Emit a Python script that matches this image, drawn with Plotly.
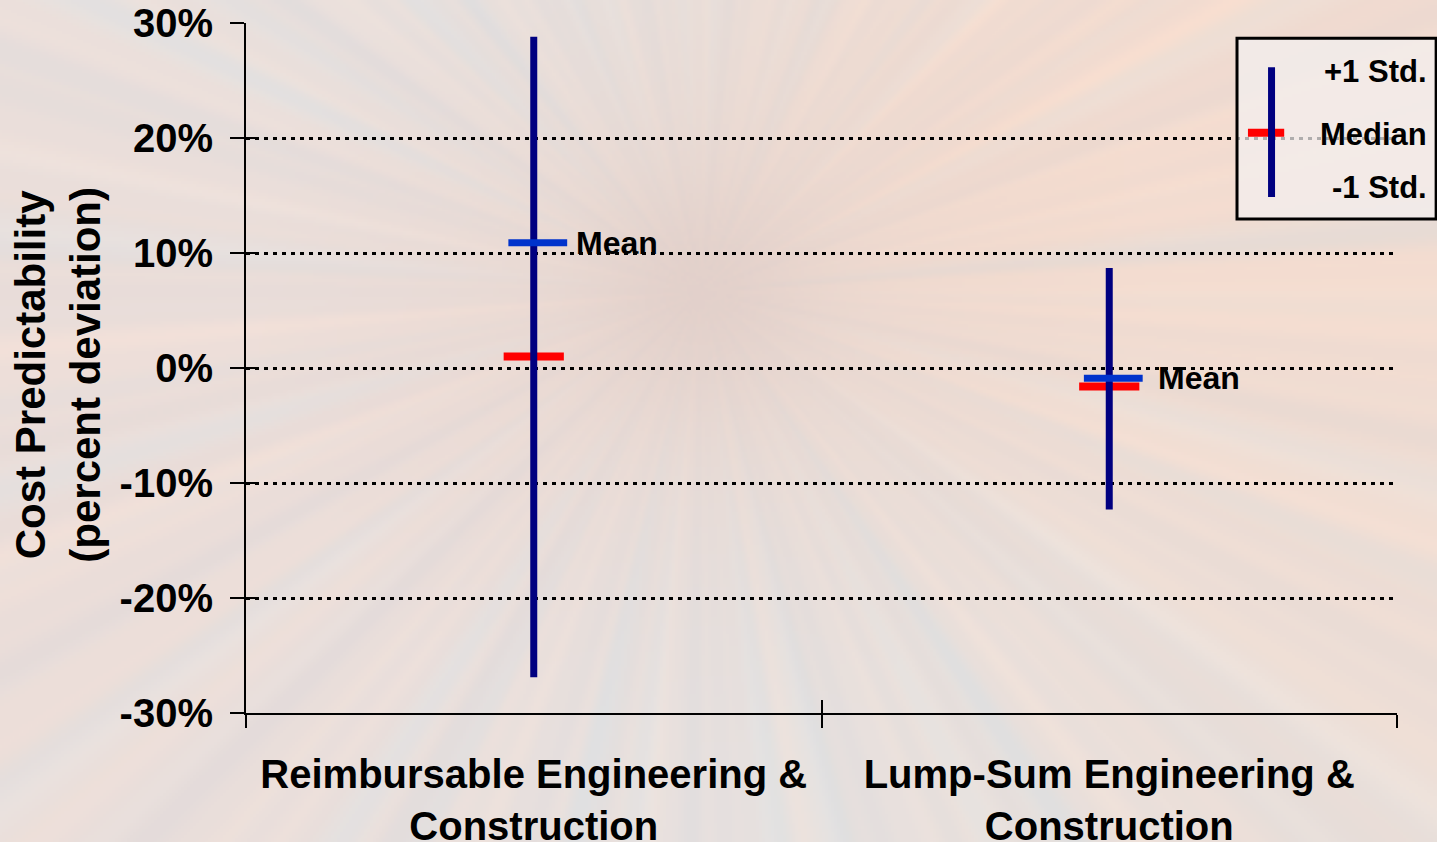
import numpy as np
import zlib, struct, base64
import plotly.graph_objects as go

# ---------------- data ----------------
categories = ["Reimbursable Engineering &<br>Construction",
              "Lump-Sum Engineering &<br>Construction"]
plus_1_std = [28.8, 8.7]
minus_1_std = [-26.9, -12.3]
mean_vals = [10.9, -0.9]
median_vals = [1.0, -1.6]
mean_label = "Mean"
y_ticks = [-30, -20, -10, 0, 10, 20, 30]
y_tick_labels = ["-30%", "-20%", "-10%", "0%", "10%", "20%", "30%"]
legend_labels = ["+1 Std.", "Median", "-1 Std."]

FONT = "Liberation Sans, Arial, Helvetica, sans-serif"
NAVY = "#000080"
BLUE = "#0033CC"
RED = "#FF0000"

# ---------------- background (soft radial burst) ----------------
W, H = 480, 282
yy, xx = np.mgrid[0:H, 0:W].astype(float)
dx = (xx / W * 1437) - 700
dy = (yy / H * 842) - 290
ang = np.arctan2(dy, dx)
r = np.hypot(dx, dy)
ray = (0.35 * np.sin(ang * 23 + 0.7) + 0.25 * np.sin(ang * 41 + 2.1)
       + 0.2 * np.sin(ang * 67 + 4.0) + 0.2 * np.sin(ang * 113 + 1.3))
ray2 = (0.5 * np.sin(ang * 17 + 3.1) + 0.5 * np.sin(ang * 53 + 0.4))
warm = 0.5 + 0.5 * np.sin(ang * 2 + 2.2)
cool = np.clip(0.5 + 0.5 * np.sin(ang * 1 - 1.2), 0, 1) ** 2
fade = np.clip(r / 450, 0, 1)
soft = 1 - np.exp(-(r / 220) ** 2)
center = np.exp(-(r / 120) ** 2)
base = np.array([231, 219, 214], float)
img = np.zeros((H, W, 3))
for k in range(3):
    img[..., k] = base[k]
img += (warm * soft)[..., None] * np.array([9, -4, -11]) + (1 - soft)[..., None] * np.array([4, -2, -5])
img += (cool * soft)[..., None] * np.array([-7, 2, 9])
img += (ray[..., None] * np.array([7, 3, 0])) * (0.3 + 0.7 * fade[..., None])
img += (np.clip(ray2, 0, 1)[..., None] * np.array([-5, 2, 5])) * fade[..., None]
img += fade[..., None] * np.array([3, 5, 5])
img += center[..., None] * np.array([-8, -8, -6])
img = np.clip(img, 0, 255).astype(np.uint8)


def png_uri(arr):
    h, w, _ = arr.shape
    raw = b"".join(b"\x00" + arr[i].tobytes() for i in range(h))

    def chunk(t, d):
        c = struct.pack(">I", len(d)) + t + d
        return c + struct.pack(">I", zlib.crc32(t + d) & 0xFFFFFFFF)

    png = (b"\x89PNG\r\n\x1a\n"
           + chunk(b"IHDR", struct.pack(">IIBBBBB", w, h, 8, 2, 0, 0, 0))
           + chunk(b"IDAT", zlib.compress(raw, 9))
           + chunk(b"IEND", b""))
    return "data:image/png;base64," + base64.b64encode(png).decode()


# ---------------- figure ----------------
fig = go.Figure()

# median and mean bars (drawn under the whiskers)
fig.add_trace(go.Scatter(
    x=categories, y=median_vals, mode="markers", hoverinfo="skip",
    marker=dict(symbol="line-ew", size=43, line=dict(color=RED, width=8)),
    showlegend=False))
# mean bars sit slightly right of the whisker (drawn on a hidden, nudged category axis)
fig.add_trace(go.Scatter(
    x=categories, y=mean_vals, mode="markers", hoverinfo="skip", xaxis="x3",
    marker=dict(symbol="line-ew", size=42, line=dict(color=BLUE, width=7)),
    showlegend=False))

# whiskers (+/- 1 std)
wx, wy = [], []
for c, lo, hi in zip(categories, minus_1_std, plus_1_std):
    wx += [c, c, None]
    wy += [lo, hi, None]
fig.add_trace(go.Scatter(x=wx, y=wy, mode="lines", hoverinfo="skip",
                         line=dict(color=NAVY, width=7), showlegend=False))

# invisible trace for the overlay axes (crossing tick marks)
fig.add_trace(go.Scatter(x=categories, y=[None, None], xaxis="x2", yaxis="y2",
                         mode="markers", showlegend=False, hoverinfo="skip"))

# "Mean" labels
for c, m, shift in zip(categories, mean_vals, [40, 47]):
    fig.add_annotation(x=c, y=m, text=mean_label, showarrow=False,
                       xanchor="left", yanchor="middle", xshift=shift,
                       font=dict(family=FONT, size=32, color="black", weight="bold"))

# y axis title
fig.add_annotation(xref="paper", yref="paper", x=-0.1635, y=0.49,
                   text="Cost Predictability<br>(percent deviation)",
                   textangle=-90, showarrow=False, xanchor="center", yanchor="middle",
                   font=dict(family=FONT, size=42, color="black", weight="bold"))

# custom legend box
fig.add_shape(type="rect", xref="paper", yref="paper",
              x0=0.861, x1=1.034, y0=0.716, y1=0.978,
              fillcolor="rgba(242,240,240,0.72)", line=dict(color="black", width=3),
              layer="above")
fig.add_shape(type="line", xref="paper", yref="paper",
              x0=0.8705, x1=0.902, y0=0.841, y1=0.841,
              line=dict(color=RED, width=8), layer="above")
fig.add_shape(type="line", xref="paper", yref="paper",
              x0=0.891, x1=0.891, y0=0.748, y1=0.936,
              line=dict(color=NAVY, width=7), layer="above")
for lab, yp in zip(legend_labels, [0.929, 0.839, 0.762]):
    fig.add_annotation(xref="paper", yref="paper", x=1.028, y=yp, text=lab,
                       showarrow=False, xanchor="right", yanchor="middle",
                       font=dict(family=FONT, size=31, color="black", weight="bold"))

fig.add_layout_image(dict(source=png_uri(img), xref="paper", yref="paper",
                          x=-246 / 1151, y=1 + 23 / 690,
                          sizex=1437 / 1151, sizey=842 / 690,
                          sizing="stretch", xanchor="left", yanchor="top",
                          layer="below"))

nudge = 0.007
fig.update_layout(
    width=1437, height=842,
    margin=dict(l=246, r=40, t=23, b=129, pad=0, autoexpand=False),
    paper_bgcolor="rgb(232,220,215)",
    plot_bgcolor="rgba(0,0,0,0)",
    font=dict(family=FONT, color="black"),
    showlegend=False,
    xaxis=dict(type="category", range=[-0.5, 1.5], tickson="boundaries",
               ticks="outside", ticklen=13, tickwidth=2, tickcolor="black",
               showline=True, linecolor="black", linewidth=2, showgrid=False,
               tickfont=dict(family=FONT, size=40, color="black", weight="bold"),
               ticklabelstandoff=25, fixedrange=True, automargin=False),
    xaxis2=dict(type="category", range=[-0.5, 1.5], overlaying="x", anchor="y",
                tickson="boundaries", ticks="inside", ticklen=13, tickwidth=2,
                tickcolor="black", showticklabels=False, showgrid=False,
                showline=False, automargin=False),
    xaxis3=dict(type="category", range=[-0.5 - nudge, 1.5 - nudge], overlaying="x",
                anchor="y", visible=False, automargin=False),
    yaxis=dict(range=[-30, 30], tickmode="array", tickvals=y_ticks,
               ticktext=y_tick_labels,
               ticks="outside", ticklen=14, tickwidth=2, tickcolor="black",
               showline=True, linecolor="black", linewidth=2,
               showgrid=True, gridcolor="black", gridwidth=3, griddash="4px,5px",
               zeroline=False,
               tickfont=dict(family=FONT, size=40, color="black", weight="bold"),
               ticklabelstandoff=9, fixedrange=True, automargin=False),
    yaxis2=dict(range=[-30, 30], tickmode="array", tickvals=y_ticks,
                overlaying="y", anchor="x",
                ticks="inside", ticklen=12, tickwidth=2, tickcolor="black",
                showticklabels=False, showgrid=False, zeroline=False,
                showline=False, automargin=False),
)

fig.write_html("out.html",
               config={"displayModeBar": False},
               post_script="document.body.style.margin='0';"
                           "document.body.style.overflow='hidden';")
